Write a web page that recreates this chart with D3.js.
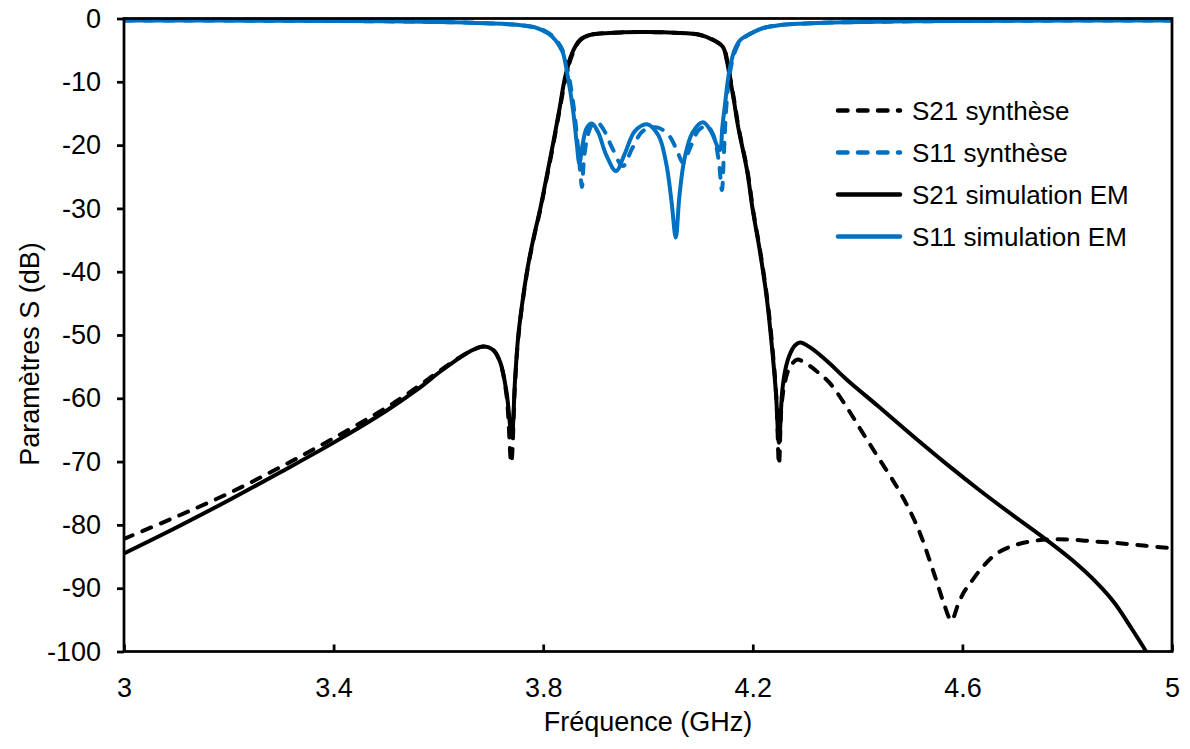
<!DOCTYPE html>
<html>
<head>
<meta charset="utf-8">
<script src="https://cdn.jsdelivr.net/npm/d3@7"></script>
<style>
  html, body { margin: 0; padding: 0; background: #fff; }
  svg { display: block; font-family: "Liberation Sans", Arial, sans-serif; }
</style>
</head>
<body>
<svg id="chart" width="1190" height="749"></svg>
<script>
// ---------------- DATA ----------------
const seriesNames = ["S21 synthèse", "S11 synthèse", "S21 simulation EM", "S11 simulation EM"];

const xTicks = [3, 3.4, 3.8, 4.2, 4.6, 5];
const yTicks = [0, -10, -20, -30, -40, -50, -60, -70, -80, -90, -100];

// S21 synthèse (dashed black)
const freqS21Syn = [3.000, 3.100, 3.200, 3.300, 3.400, 3.500, 3.560, 3.600, 3.630, 3.660, 3.686, 3.705, 3.718, 3.730, 3.739, 3.746, 3.752, 3.760, 3.770, 3.782, 3.794, 3.806, 3.819, 3.831, 3.843, 3.856, 3.871, 3.889, 3.947, 4.000, 4.050, 4.100, 4.125, 4.144, 4.151, 4.157, 4.165, 4.173, 4.190, 4.201, 4.215, 4.228, 4.238, 4.245, 4.250, 4.255, 4.262, 4.270, 4.284, 4.300, 4.320, 4.347, 4.380, 4.410, 4.443, 4.475, 4.500, 4.519, 4.537, 4.552, 4.565, 4.579, 4.592, 4.603, 4.615, 4.640, 4.666, 4.700, 4.748, 4.800, 4.850, 4.900, 4.950, 5.000];
const s21Syn     = [-82.2, -78.7, -75.0, -70.8, -66.3, -61.5, -58.2, -55.8, -54.1, -52.6, -51.8, -52.4, -54.4, -59.5, -70.2, -58.0, -50.8, -45.2, -39.7, -34.7, -30.4, -25.5, -20.0, -14.6, -9.4, -5.6, -3.4, -2.6, -2.2, -2.15, -2.25, -2.6, -3.4, -4.6, -6.6, -9.4, -13.2, -17.3, -24.2, -30.5, -37.2, -44.6, -52.5, -60.0, -70.5, -61.0, -57.2, -55.2, -53.9, -54.4, -55.6, -57.6, -61.5, -65.5, -69.8, -74.0, -77.8, -81.3, -85.5, -89.2, -92.5, -95.1, -92.5, -90.6, -89.2, -86.5, -84.5, -83.2, -82.4, -82.3, -82.6, -82.9, -83.3, -83.7];

// S11 synthèse (dashed blue)
const freqS11Syn = [3.000, 3.300, 3.500, 3.600, 3.690, 3.750, 3.790, 3.812, 3.825, 3.834, 3.841, 3.850, 3.859, 3.866, 3.871, 3.874, 3.878, 3.885, 3.893, 3.903, 3.915, 3.932, 3.952, 3.970, 3.990, 4.017, 4.040, 4.055, 4.067, 4.080, 4.097, 4.113, 4.125, 4.135, 4.141, 4.145, 4.149, 4.154, 4.160, 4.168, 4.178, 4.200, 4.220, 4.250, 4.300, 4.350, 4.500, 4.700, 5.000];
const s11Syn     = [-0.3, -0.35, -0.45, -0.55, -0.75, -1.0, -1.5, -2.4, -3.4, -4.5, -6.0, -9.5, -14.5, -20.0, -24.5, -26.6, -22.0, -18.5, -16.8, -16.4, -17.5, -20.5, -23.3, -20.5, -17.8, -17.2, -18.5, -20.8, -22.8, -20.5, -17.6, -17.0, -18.5, -22.5, -27.1, -21.0, -14.5, -10.0, -7.0, -4.8, -3.4, -2.2, -1.5, -1.05, -0.8, -0.65, -0.45, -0.35, -0.3];

// S21 simulation EM (solid black)
const freqS21EM = [3.000, 3.100, 3.200, 3.300, 3.400, 3.500, 3.560, 3.600, 3.630, 3.660, 3.686, 3.705, 3.718, 3.730, 3.740, 3.746, 3.752, 3.760, 3.770, 3.782, 3.794, 3.806, 3.819, 3.831, 3.842, 3.855, 3.870, 3.889, 3.947, 4.000, 4.050, 4.100, 4.124, 4.143, 4.150, 4.156, 4.164, 4.172, 4.189, 4.200, 4.214, 4.227, 4.237, 4.244, 4.250, 4.256, 4.262, 4.270, 4.280, 4.290, 4.310, 4.340, 4.380, 4.440, 4.506, 4.570, 4.634, 4.700, 4.761, 4.810, 4.857, 4.890, 4.920, 4.952, 4.970];
const s21EM     = [-84.5, -80.4, -76.1, -71.6, -67.0, -62.0, -58.6, -56.0, -54.2, -52.6, -51.8, -52.4, -54.3, -59.0, -66.0, -57.5, -50.5, -45.0, -39.5, -34.5, -30.2, -25.2, -19.7, -14.3, -9.2, -5.5, -3.4, -2.6, -2.2, -2.15, -2.25, -2.6, -3.4, -4.5, -6.5, -9.2, -13.0, -17.1, -24.0, -30.3, -37.0, -44.4, -52.3, -59.0, -67.0, -59.0, -55.5, -53.2, -51.7, -51.2, -52.0, -54.0, -57.1, -61.3, -66.0, -70.4, -74.6, -78.7, -82.4, -85.6, -89.2, -92.3, -96.0, -100.2, -103.0];

// S11 simulation EM (solid blue)
const freqS11EM = [3.000, 3.300, 3.500, 3.600, 3.690, 3.750, 3.788, 3.810, 3.823, 3.832, 3.838, 3.847, 3.857, 3.864, 3.869, 3.875, 3.883, 3.893, 3.905, 3.920, 3.939, 3.955, 3.975, 3.998, 4.020, 4.035, 4.045, 4.053, 4.060, 4.070, 4.085, 4.105, 4.120, 4.137, 4.142, 4.147, 4.152, 4.157, 4.165, 4.176, 4.200, 4.220, 4.250, 4.300, 4.350, 4.500, 4.700, 5.000];
const s11EM     = [-0.3, -0.35, -0.45, -0.55, -0.75, -1.0, -1.5, -2.4, -3.4, -4.5, -5.5, -9.2, -14.5, -19.7, -22.9, -20.0, -17.3, -16.6, -18.0, -21.5, -24.1, -21.5, -17.8, -16.7, -18.5, -23.0, -29.0, -34.6, -28.0, -22.0, -18.0, -16.4, -17.8, -20.8, -17.0, -13.5, -10.0, -7.5, -5.0, -3.4, -2.2, -1.5, -1.05, -0.8, -0.65, -0.45, -0.35, -0.3];

// ---------------- CHART ----------------
const W = 1190, H = 749;
const plot = { left: 124, right: 1172, top: 18.5, bottom: 651.5 };
const BLUE = "#0070C0", BLACK = "#000000";
const FONT = 27;

const svg = d3.select("#chart");
svg.append("rect").attr("width", W).attr("height", H).attr("fill", "#fff");

const x = d3.scaleLinear().domain([3, 5]).range([plot.left, plot.right]);
const y = d3.scaleLinear().domain([-100, 0]).range([plot.bottom, plot.top]);

svg.append("defs").append("clipPath").attr("id", "clip")
  .append("rect")
  .attr("x", plot.left).attr("y", plot.top - 3)
  .attr("width", plot.right - plot.left).attr("height", plot.bottom - plot.top + 3);

const series = [
  { name: seriesNames[0], f: freqS21Syn, v: s21Syn, color: BLACK, dash: true },
  { name: seriesNames[1], f: freqS11Syn, v: s11Syn, color: BLUE, dash: true },
  { name: seriesNames[2], f: freqS21EM, v: s21EM, color: BLACK, dash: false },
  { name: seriesNames[3], f: freqS11EM, v: s11EM, color: BLUE, dash: false }
];

const line = d3.line()
  .x(d => x(d[0]))
  .y(d => y(d[1]))
  .curve(d3.curveCatmullRom.alpha(0.5));

const g = svg.append("g").attr("clip-path", "url(#clip)");
series.forEach(s => {
  const pts = s.f.map((f, i) => [f, s.v[i]]);
  g.append("path")
    .datum(pts)
    .attr("d", line)
    .attr("fill", "none")
    .attr("stroke", s.color)
    .attr("stroke-width", 4)
    .attr("stroke-linecap", "round")
    .attr("stroke-linejoin", "round")
    .attr("stroke-dasharray", s.dash ? "9.5,10.5" : null);
});

// Frame
svg.append("rect")
  .attr("x", plot.left).attr("y", plot.top)
  .attr("width", plot.right - plot.left).attr("height", plot.bottom - plot.top)
  .attr("fill", "none").attr("stroke", BLACK).attr("stroke-width", 2.75);

// Y axis
const yAxis = d3.axisLeft(y)
  .tickValues(yTicks)
  .tickSize(7)
  .tickPadding(16)
  .tickFormat(d => String(d));
const gy = svg.append("g").attr("transform", `translate(${plot.left},0)`).call(yAxis);
gy.select(".domain").remove();
gy.selectAll(".tick line").attr("stroke", BLACK).attr("stroke-width", 2.75);
gy.selectAll(".tick text").attr("font-size", FONT).attr("fill", BLACK)
  .attr("font-family", "'Liberation Sans', Arial, sans-serif");

// X axis (ticks inside)
const xAxis = d3.axisBottom(x)
  .tickValues(xTicks)
  .tickSizeInner(-7)
  .tickSizeOuter(0)
  .tickPadding(26)
  .tickFormat(d => String(d));
const gx = svg.append("g").attr("transform", `translate(0,${plot.bottom})`).call(xAxis);
gx.select(".domain").remove();
gx.selectAll(".tick line").attr("stroke", BLACK).attr("stroke-width", 2.75);
gx.selectAll(".tick text").attr("font-size", FONT).attr("fill", BLACK)
  .attr("font-family", "'Liberation Sans', Arial, sans-serif");

// Axis titles
svg.append("text")
  .attr("x", (plot.left + plot.right) / 2)
  .attr("y", 731)
  .attr("text-anchor", "middle")
  .attr("font-size", FONT)
  .attr("fill", "#000")
  .text("Fréquence (GHz)");

svg.append("text")
  .attr("transform", `translate(30,354) rotate(-90)`)
  .attr("text-anchor", "middle")
  .attr("dominant-baseline", "central")
  .attr("font-size", FONT)
  .attr("fill", "#000")
  .text("Paramètres S (dB)");

// Legend
const legend = svg.append("g");
series.forEach((s, i) => {
  const cy = 110.5 + i * 42;
  legend.append("line")
    .attr("x1", 838).attr("x2", 900)
    .attr("y1", cy).attr("y2", cy)
    .attr("stroke", s.color)
    .attr("stroke-width", 4.5)
    .attr("stroke-linecap", "round")
    .attr("stroke-dasharray", s.dash ? "9.5,10.5" : null);
  legend.append("text")
    .attr("x", 912).attr("y", cy)
    .attr("dominant-baseline", "central")
    .attr("font-size", 26)
    .attr("fill", "#000")
    .text(s.name);
});
</script>
</body>
</html>
